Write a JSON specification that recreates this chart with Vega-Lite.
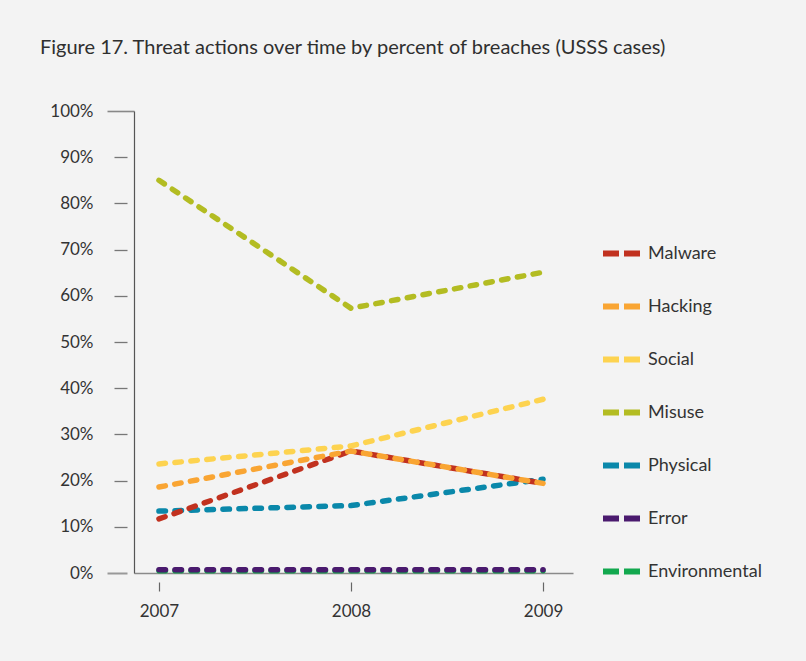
{
  "$schema": "https://vega.github.io/schema/vega-lite/v6.json",
  "width": 439,
  "height": 462,
  "autosize": {"type": "none"},
  "padding": {"left": 134, "top": 111, "right": 233, "bottom": 88},
  "background": "#f3f3f3",
  "title": {
    "text": "Figure 17. Threat actions over time by percent of breaches (USSS cases)",
    "anchor": "start",
    "frame": "group",
    "dx": -94,
    "offset": 44,
    "font": "Lato",
    "fontSize": 20,
    "fontWeight": "normal",
    "color": "#2f2f2f"
  },
  "data": {
    "values": [
      {"series": "Environmental", "year": 2007, "pct": 0.5},
      {"series": "Environmental", "year": 2008, "pct": 0.5},
      {"series": "Environmental", "year": 2009, "pct": 0.5},
      {"series": "Error", "year": 2007, "pct": 0.7},
      {"series": "Error", "year": 2008, "pct": 0.7},
      {"series": "Error", "year": 2009, "pct": 0.7},
      {"series": "Physical", "year": 2007, "pct": 13.4},
      {"series": "Physical", "year": 2008, "pct": 14.6},
      {"series": "Physical", "year": 2009, "pct": 20.3},
      {"series": "Misuse", "year": 2007, "pct": 85},
      {"series": "Misuse", "year": 2008, "pct": 57.3},
      {"series": "Misuse", "year": 2009, "pct": 65.1},
      {"series": "Social", "year": 2007, "pct": 23.6},
      {"series": "Social", "year": 2008, "pct": 27.5},
      {"series": "Social", "year": 2009, "pct": 37.6},
      {"series": "Malware", "year": 2007, "pct": 11.7},
      {"series": "Malware", "year": 2008, "pct": 26.4},
      {"series": "Malware", "year": 2009, "pct": 19.4},
      {"series": "Hacking", "year": 2007, "pct": 18.6},
      {"series": "Hacking", "year": 2008, "pct": 26.4},
      {"series": "Hacking", "year": 2009, "pct": 19.4}
    ]
  },
  "encoding": {
    "x": {"field": "year", "type": "quantitative", "scale": {"domain": [2006.87, 2009.156], "nice": false, "zero": false}},
    "y": {"field": "pct", "type": "quantitative", "scale": {"domain": [0, 100], "nice": false}}
  },
  "layer": [
    {
      "mark": {"type": "line", "opacity": 0},
      "encoding": {
        "x": {"field": "year", "type": "quantitative",
          "axis": {"orient": "bottom", "title": null, "values": [2007, 2008, 2009], "format": "d", "grid": false,
            "domain": false, "ticks": true, "tickColor": "#666666", "tickSize": 9, "tickWidth": 1.2,
            "offset": 9, "labelPadding": 12, "labelFont": "Lato", "labelFontSize": 17, "labelColor": "#333333"}},
        "y": {"field": "pct", "type": "quantitative",
          "axis": {"orient": "left", "title": null, "values": [10, 20, 30, 40, 50, 60, 70, 80, 90], "grid": false,
            "labelExpr": "datum.value + '%'",
            "domain": false, "ticks": true, "tickColor": "#777777", "tickSize": 13, "tickWidth": 1.3,
            "offset": 7, "labelPadding": 21, "labelFont": "Lato", "labelFontSize": 17, "labelColor": "#333333"}}
      }
    },
    {
      "mark": {"type": "line", "opacity": 0},
      "encoding": {
        "x": {"field": "year", "type": "quantitative", "axis": null},
        "y": {"field": "pct", "type": "quantitative",
          "axis": {"orient": "left", "title": null, "values": [100], "grid": false,
            "labelExpr": "datum.value + '%'",
            "domain": false, "ticks": true, "tickColor": "#888888", "tickSize": 27, "tickWidth": 1.6,
            "offset": 0, "labelPadding": 14, "labelFont": "Lato", "labelFontSize": 17, "labelColor": "#333333"}}
      }
    },
    {
      "mark": {"type": "line", "opacity": 0},
      "encoding": {
        "x": {"field": "year", "type": "quantitative", "axis": null},
        "y": {"field": "pct", "type": "quantitative",
          "axis": {"orient": "left", "title": null, "values": [0], "grid": false,
            "labelExpr": "datum.value + '%'",
            "domain": false, "ticks": true, "tickColor": "#999999", "tickSize": 20, "tickWidth": 2,
            "offset": 7, "labelPadding": 14, "labelFont": "Lato", "labelFontSize": 17, "labelColor": "#333333"}}
      }
    },
    {
      "mark": {"type": "line", "strokeWidth": 5.5, "strokeDash": [6.5, 9.5], "strokeCap": "round", "strokeJoin": "round"},
      "encoding": {
        "x": {"field": "year", "type": "quantitative",
          "axis": {"orient": "bottom", "title": null, "labels": false, "ticks": false, "grid": false, "domain": true,
            "domainColor": "#8a8a8a", "domainWidth": 1.5}},
        "y": {"field": "pct", "type": "quantitative",
          "axis": {"orient": "left", "title": null, "labels": false, "ticks": false, "grid": false, "domain": true,
            "domainColor": "#555555", "domainWidth": 1.2}},
        "color": {
          "field": "series", "type": "nominal",
          "scale": {
            "domain": ["Malware", "Hacking", "Social", "Misuse", "Physical", "Error", "Environmental"],
            "range": ["#c1311f", "#f9a533", "#fdd350", "#b3bc22", "#0a88aa", "#4a1a6e", "#12a84e"]
          },
          "legend": {
            "title": null, "orient": "none", "legendX": 466, "legendY": 121,
            "symbolType": "stroke", "symbolSize": 1369, "symbolStrokeWidth": 6,
            "symbolDash": [16, 5], "symbolOffset": 0,
            "labelFont": "Lato", "labelFontSize": 18, "labelColor": "#333333",
            "labelOffset": 5, "rowPadding": 19
          }
        }
      }
    }
  ],
  "resolve": {"axis": {"x": "independent", "y": "independent"}},
  "config": {
    "view": {"stroke": null},
    "font": "Lato"
  }
}
